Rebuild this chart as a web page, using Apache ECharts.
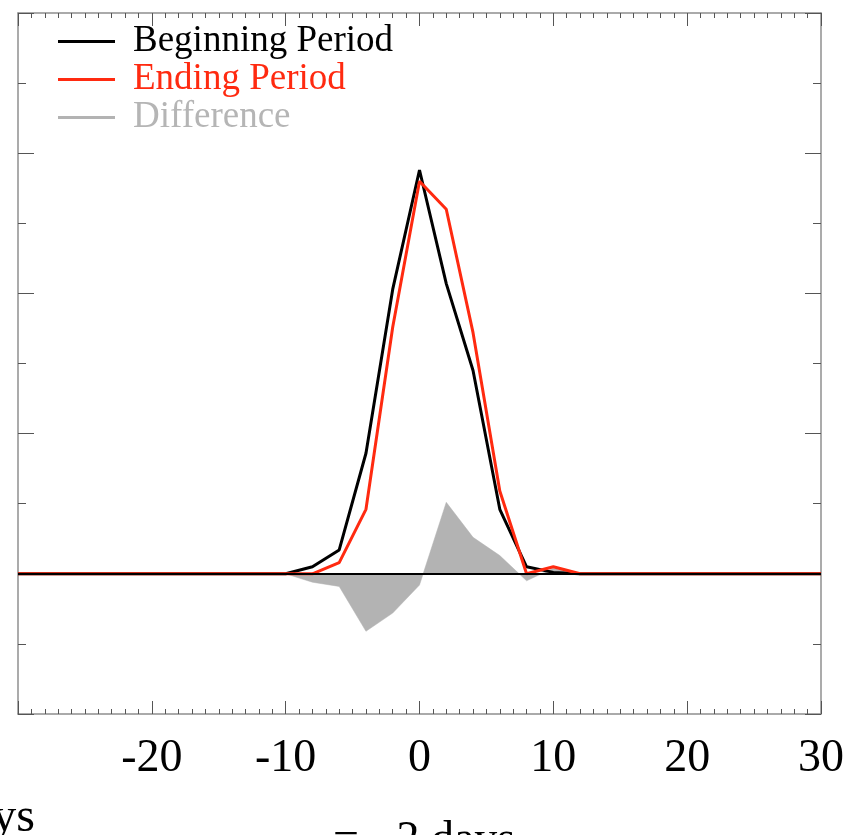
<!DOCTYPE html>
<html>
<head>
<meta charset="utf-8">
<script src="https://cdn.jsdelivr.net/npm/echarts@6/dist/echarts.min.js"></script>
<style>
  html, body { margin: 0; padding: 0; background: #fff; }
  #chart { width: 850px; height: 835px; }
</style>
</head>
<body>
<div id="chart"></div>
<script>
// ---- data ----
var days = [-30,-28,-26,-24,-22,-20,-18,-16,-14,-12,-10,-8,-6,-4,-2,0,2,4,6,8,10,12,14,16,18,20,22,24,26,28,30];
var beginning = [0,0,0,0,0,0,0,0,0,0,0,0.005,0.017,0.086,0.203,0.288,0.207,0.145,0.046,0.005,0.001,0,0,0,0,0,0,0,0,0,0];
var ending    = [0,0,0,0,0,0,0,0,0,0,0,0.000,0.008,0.046,0.176,0.280,0.260,0.172,0.059,0.000,0.005,0,0,0,0,0,0,0,0,0,0];
var difference= [0,0,0,0,0,0,0,0,0,0,0,-0.006,-0.009,-0.041,-0.028,-0.008,0.051,0.026,0.013,-0.005,0.004,0,0,0,0,0,0,0,0,0,0];
var seriesNames = ['Beginning Period', 'Ending Period', 'Difference'];
var xTickLabels = ['-20','-10','0','10','20','30'];

function pairs(vals) { return days.map(function (d, i) { return [d, vals[i]]; }); }

var FONT = '"Liberation Serif", "DejaVu Serif", serif';
var frameColor = '#8f8f8f';
var tickColor = '#555';

var chart = echarts.init(document.getElementById('chart'));

var xBase = {
  type: 'value', min: -30, max: 30, interval: 10,
  axisLine: { show: true, onZero: false, lineStyle: { color: frameColor, width: 1.5 } },
  axisTick: { show: true, inside: true, length: 13, lineStyle: { color: tickColor, width: 1 } },
  minorTick: { show: true, splitNumber: 10, length: 5, lineStyle: { color: tickColor, width: 1 } },
  splitLine: { show: false }, minorSplitLine: { show: false }
};
var yBase = {
  type: 'value', min: -0.1, max: 0.4, interval: 0.1,
  axisLine: { show: true, onZero: false, lineStyle: { color: frameColor, width: 1.5 } },
  axisTick: { show: true, inside: true, length: 16, lineStyle: { color: tickColor, width: 1 } },
  minorTick: { show: true, splitNumber: 2, length: 8, lineStyle: { color: tickColor, width: 1 } },
  splitLine: { show: false }, minorSplitLine: { show: false },
  axisLabel: { show: false }
};

var option = {
  animation: false,
  backgroundColor: '#ffffff',
  grid: { left: 18, right: 29, top: 13, bottom: 121, containLabel: false },
  xAxis: [
    Object.assign({}, xBase, {
      position: 'bottom',
      axisLabel: {
        show: true, margin: 22, color: '#000', fontFamily: FONT, fontSize: 46,
        formatter: function (v) {
          var s = String(Math.round(v));
          return xTickLabels.indexOf(s) >= 0 ? s : '';
        }
      }
    }),
    Object.assign({}, xBase, { position: 'top', axisLabel: { show: false } })
  ],
  yAxis: [
    Object.assign({}, yBase, { position: 'left' }),
    Object.assign({}, yBase, { position: 'right' })
  ],
  legend: {
    show: true, orient: 'vertical', left: 53, top: 18,
    itemWidth: 57, itemHeight: 3, itemGap: 1, icon: 'rect',
    textStyle: { fontFamily: FONT, fontSize: 37, padding: [0, 0, 0, 13], lineHeight: 37 },
    data: [
      { name: seriesNames[0], textStyle: { color: '#000000' } },
      { name: seriesNames[1], textStyle: { color: '#ff2a10' } },
      { name: seriesNames[2], textStyle: { color: '#b5b5b5' } }
    ],
    selectedMode: false
  },
  series: [
    {
      name: seriesNames[2], type: 'line', z: 1, data: pairs(difference),
      showSymbol: false, symbol: 'none',
      itemStyle: { color: '#b3b3b3' },
      lineStyle: { color: '#b3b3b3', width: 0.5 },
      areaStyle: { color: '#b3b3b3', opacity: 1 }
    },
    {
      name: seriesNames[0], type: 'line', z: 2, data: pairs(beginning),
      showSymbol: false, symbol: 'none',
      itemStyle: { color: '#000000' },
      lineStyle: { color: '#000000', width: 3 },
      markLine: {
        silent: true, symbol: ['none', 'none'], label: { show: false },
        lineStyle: { color: '#000', width: 2, type: 'solid' },
        data: [{ yAxis: 0 }]
      }
    },
    {
      name: seriesNames[1], type: 'line', z: 3, data: pairs(ending),
      showSymbol: false, symbol: 'none',
      itemStyle: { color: '#ff2a10' },
      lineStyle: { color: '#ff2a10', width: 3 }
    }
  ],
  graphic: [
    { type: 'text', x: 35, y: 818, style: { text: 'days', fontFamily: FONT, fontSize: 48, fill: '#000', align: 'right', verticalAlign: 'middle' } },
    { type: 'text', x: 333, y: 841, style: { text: '= \u22122 days', fontFamily: FONT, fontSize: 46, fill: '#000', align: 'left', verticalAlign: 'middle' } }
  ]
};
chart.setOption(option);
</script>
</body>
</html>
